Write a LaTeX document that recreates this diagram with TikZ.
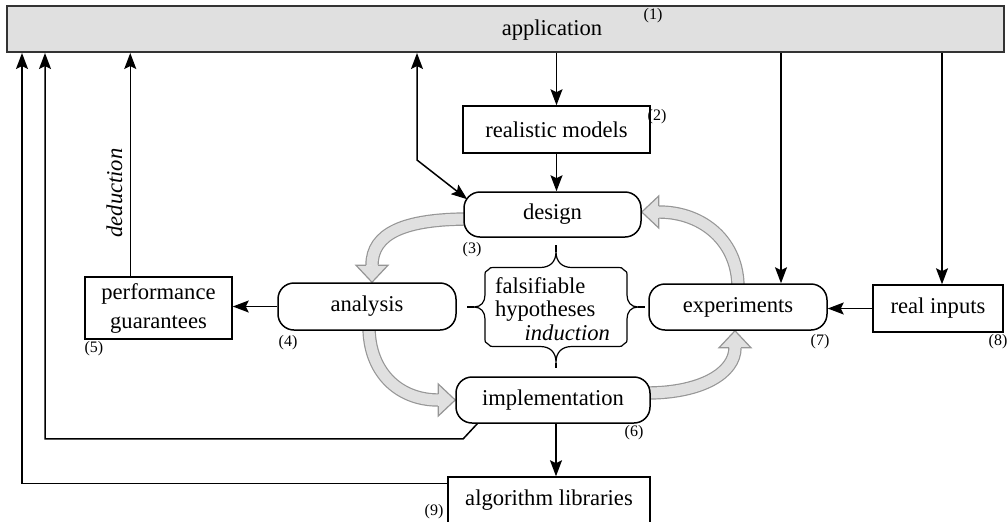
\documentclass[tikz,border=0pt]{standalone}
\usepackage{fontspec}
\setmainfont{Liberation Serif}
\usetikzlibrary{arrows.meta,calc,backgrounds}

\definecolor{barfill}{RGB}{224,224,224}
\definecolor{flowfill}{RGB}{224,224,224}
\definecolor{flowline}{RGB}{150,150,150}

% head of a broad grey process arrow: #1 = tip, #2 = pointing angle
\newcommand\flowhead[2]{%
  \begin{scope}[shift={#1}, rotate=#2]
    \fill[flowfill] (0,0) -- (-17,16) -- (-17,-16) -- cycle;
    \draw[flowline, line width=0.6pt, line join=miter]
      (-17,6) -- (-17,16) -- (0,0) -- (-17,-16) -- (-17,-6);
  \end{scope}}

\tikzset{
  box/.style={draw, line width=0.75pt, fill=white, inner sep=0pt, align=center},
  phase/.style={box, rounded corners=8pt},
  conn/.style={line width=0.75pt, -{Stealth[length=8pt,width=6pt,inset=1.5pt]}},
  bothconn/.style={line width=0.75pt,
    {Stealth[length=8pt,width=6pt,inset=1.5pt]}-{Stealth[length=8pt,width=6pt,inset=1.5pt]}},
  flow/.style={draw=flowline, line width=0.6pt, double=flowfill, double distance=5.5pt},
  num/.style={font=\fontsize{8}{9}\selectfont, inner sep=0pt},
  bracepath/.style={line width=0.6pt, line join=round},
}

\begin{document}
\begin{tikzpicture}[x=0.5pt, y=-0.5pt, font=\fontsize{11.3}{13.5}\selectfont]
\clip (0,0) rectangle (1008,521);

% application bar
\node[draw=black!80, line width=1pt, fill=barfill, minimum width=498.5pt,
      minimum height=23pt, inner sep=0pt] (app) at (505.5,29) {};
\node[inner sep=0pt] (apptext) at (552,30) {application};
\node[num] (n1) at (653,16) {(1)};

% boxes
\node[box, minimum width=93.5pt, minimum height=23.5pt] (models) at (556.5,129.5) {realistic models};
\node[phase, minimum width=88.5pt, minimum height=22.5pt] (design) at (552.5,214.5) {design};
\node[phase, minimum width=89pt, minimum height=23.5pt] (analysis) at (367,306.5) {analysis};
\node[phase, minimum width=89pt, minimum height=23pt] (exp) at (738,307) {experiments};
\node[phase, minimum width=97pt, minimum height=23pt] (impl) at (553,400) {implementation};
\node[box, minimum width=73.5pt, minimum height=31pt, font=\fontsize{11.3}{14.5}\selectfont]
  (perf) at (158.5,308) {performance\\guarantees};
\node[box, minimum width=65pt, minimum height=23.5pt] (realin) at (938,308.5) {real inputs};
\node[box, minimum width=101pt, minimum height=23.5pt] (alglib) at (549,500.5) {algorithm libraries};

% number tags
\node[num] (n2) at (657,117) {(2)};
\node[num] (n3) at (472,250) {(3)};
\node[num] (n4) at (288,343) {(4)};
\node[num] (n5) at (94,349) {(5)};
\node[num] (n6) at (634,433) {(6)};
\node[num] (n7) at (820,342) {(7)};
\node[num] (n8) at (998,342) {(8)};
\node[num] (n9) at (434,512) {(9)};

% hypotheses, framed by braces on all four sides
\node[text width=57.5pt, align=left, inner sep=0pt, font=\fontsize{11.3}{11.75}\selectfont]
  (hyp) at (552.5,309) {falsifiable\\hypotheses\\\hfill\textit{induction}};
\begin{scope}[shift={(556,307)}]
  \draw[bracepath]
    (-68,-37) .. controls (-67,-39.5) and (-65,-39.5) .. (-60,-39.5) -- (-16,-39.5)
      .. controls (-6,-39.5) and (0,-45) .. (0,-55.5)
      .. controls (0,-45) and (6,-39.5) .. (16,-39.5) -- (60,-39.5)
      .. controls (65,-39.5) and (67,-39.5) .. (68,-37)
      .. controls (71,-36) and (71,-35) .. (71,-30) -- (71,-12)
      .. controls (71,-5) and (75,0) .. (82,0)
      .. controls (75,0) and (71,5) .. (71,12) -- (71,30)
      .. controls (71,35) and (71,36) .. (68,37)
      .. controls (67,39.5) and (65,39.5) .. (60,39.5) -- (16,39.5)
      .. controls (6,39.5) and (0,45) .. (0,55.5)
      .. controls (0,45) and (-6,39.5) .. (-16,39.5) -- (-60,39.5)
      .. controls (-65,39.5) and (-67,39.5) .. (-68,37)
      .. controls (-71,36) and (-71,35) .. (-71,30) -- (-71,12)
      .. controls (-71,5) and (-75,0) .. (-82,0)
      .. controls (-75,0) and (-71,-5) .. (-71,-12) -- (-71,-30)
      .. controls (-71,-35) and (-71,-36) .. (-68,-37);
  \draw[bracepath] (0,-55.5) -- (0,-62) (0,55.5) -- (0,61)
                   (82,0) -- (89,0) (-82,0) -- (-89,0);
\end{scope}

% connectors to and from the application bar
\coordinate (libL) at ($(alglib.north west)+(0,7)$);
\draw[conn] (libL) -| ($(app.south west)+(16,0)$);
\coordinate (implA) at ($(impl.south west)+(22,0)$);
\coordinate (implB) at ($(impl.south west)+(8,15)$);
\draw[conn] (implA) -- (implB) -| ($(app.south west)+(39,0)$);
\coordinate (perfT) at ($(perf.north west)+(46,0)$);
\draw[conn] (perfT) -- (perfT |- app.south)
  node[pos=0.373, anchor=south, rotate=90, inner sep=3.5pt, font=\fontsize{11.3}{13.5}\itshape] (ded) {deduction};
\coordinate (dbend) at (417,160);
\draw[bothconn] (app.south -| dbend) -- (dbend) -- ($(design.north west)+(4,8)$);
\draw[conn] (app.south -| models.north) -- (models.north);
\draw[conn] (models.south) -- (models.south |- design.north);
\coordinate (expT) at ($(exp.north)+(43,0)$);
\draw[conn] (app.south -| expT) -- (expT);
\coordinate (realT) at ($(realin.north)+(4,0)$);
\draw[conn] (app.south -| realT) -- (realT);
\draw[conn] (realin.west) -- (realin.west -| exp.east);
\draw[conn] (analysis.west) -- (analysis.west -| perf.east);
\coordinate (implS) at ($(impl.south)+(3,0)$);
\draw[conn] (implS) -- (implS |- alglib.north);

% the grey design cycle
\begin{pgfonlayer}{background}
  \draw[flow] ($(design.west)+(6,4.5)$) .. controls +(-65,0) and +(0,-32) .. ($(analysis.north)+(5,-17)$);
  \flowhead{($(analysis.north)+(5,0)$)}{-90}
  \draw[flow] ($(analysis.south)+(2,-4)$) .. controls +(0,45) and +(-40,0) .. ($(impl.west)+(-17,0)$);
  \flowhead{(impl.west)}{0}
  \draw[flow] ($(impl.east)+(-4,-7)$) .. controls +(55,0) and +(0,25) .. ($(exp.south)+(-3,17)$);
  \flowhead{($(exp.south)+(-3,0)$)}{90}
  \draw[flow] ($(exp.north)+(0,4)$) .. controls +(0,-45) and +(45,0) .. ($(design.east)+(17,-2.5)$);
  \flowhead{($(design.east)+(0,-2.5)$)}{180}
\end{pgfonlayer}
\end{tikzpicture}
\end{document}
